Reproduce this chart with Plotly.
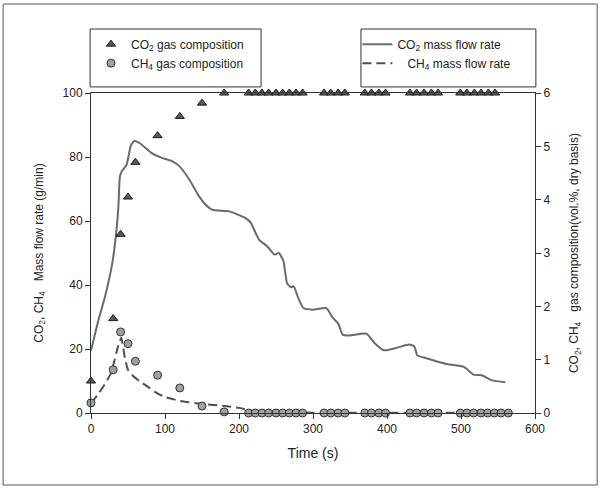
import plotly.graph_objects as go

# ---------------- data ----------------
# CO2 mass flow rate (g/min), left axis
co2_flow_t = [0, 10, 19, 28, 33, 37, 39, 41.5, 48, 50.5, 54, 58.5, 66, 82, 95, 110, 120, 133,
              146, 155, 164, 187, 209, 216, 227, 238, 248, 254, 260, 265, 270, 274, 280, 287,
              300, 318, 327, 334, 340, 349, 372, 383, 396, 412, 430, 437, 441, 452, 479, 504,
              517, 528, 542, 560]
co2_flow_v = [19.5, 29, 36.4, 45.8, 54, 64.5, 73.8, 75.5, 77.5, 80, 83.7, 85, 84.3, 81.2, 79.8,
              78.6, 77, 72.9, 67.7, 65.1, 63.5, 63, 60.9, 59.4, 54.2, 52.1, 49.5, 50, 47.5,
              40.5, 39.3, 39.6, 36, 32.8, 32.3, 32.8, 29.7, 28, 24.5, 24.2, 24.8, 21.9, 19.6,
              20.3, 21.4, 20.8, 18, 17.2, 15.4, 14.4, 12, 11.8, 10.2, 9.6]

# CH4 mass flow rate (g/min), left axis
ch4_flow_t = [0, 10, 20, 27, 34, 38, 41, 43, 46, 50, 58, 66, 78, 88, 100, 120, 150, 180, 200,
              215, 240, 300, 400, 500, 560]
ch4_flow_v = [3.1, 6, 9.5, 12.5, 18.5, 22, 23.5, 21, 17, 13.5, 11.3, 9.9, 8, 6.4, 5, 3.8, 2.8,
              2.2, 1.6, 0.8, 0.3, 0.1, 0.1, 0.1, 0.1]

# CO2 gas composition (vol.%, dry basis), right axis
co2_comp_t = [0, 30, 40, 50, 60, 90, 120, 150, 180,
              213, 222, 231, 240, 250, 259, 268, 277, 286,
              315, 324, 334, 343,
              370, 379, 389, 398,
              431, 440, 450, 460, 469,
              499, 508, 518, 527, 537, 546]
co2_comp = [0.60, 1.77, 3.35, 4.05, 4.70, 5.20, 5.56, 5.81, 6.00,
            6.00, 6.00, 6.00, 6.00, 6.00, 6.00, 6.00, 6.00, 6.00,
            6.00, 6.00, 6.00, 6.00,
            6.00, 6.00, 6.00, 6.00,
            6.00, 6.00, 6.00, 6.00, 6.00,
            6.00, 6.00, 6.00, 6.00, 6.00, 6.00]

# CH4 gas composition (vol.%, dry basis), right axis
ch4_comp_t = [0, 30, 40, 50, 60, 90, 120, 150, 180,
              213, 222, 231, 240, 250, 259, 268, 277, 286,
              315, 324, 334, 343,
              370, 379, 389, 398,
              431, 440, 450, 460, 469,
              499, 508, 517, 527, 536, 545, 554, 564]
ch4_comp = [0.19, 0.81, 1.52, 1.30, 0.97, 0.71, 0.47, 0.13, 0.02,
            0, 0, 0, 0, 0, 0, 0, 0, 0,
            0, 0, 0, 0,
            0, 0, 0, 0,
            0, 0, 0, 0, 0,
            0, 0, 0, 0, 0, 0, 0, 0]

x_ticks = [0, 100, 200, 300, 400, 500, 600]
y_left_ticks = [0, 20, 40, 60, 80, 100]
y_right_ticks = [0, 1, 2, 3, 4, 5, 6]

FONT = "Liberation Sans, Arial, sans-serif"
NB = "\u00a0"

fig = go.Figure()

fig.add_trace(go.Scatter(
    x=co2_flow_t, y=co2_flow_v, mode="lines", yaxis="y",
    line=dict(color="#6a6a6a", width=2, shape="spline", smoothing=0.5),
    name="CO<sub>2</sub> mass flow rate", legend="legend2"))
fig.add_trace(go.Scatter(
    x=ch4_flow_t, y=ch4_flow_v, mode="lines", yaxis="y",
    line=dict(color="#505050", width=2, dash="9px,5px", shape="spline", smoothing=0.5),
    name=NB * 3 + "CH<sub>4</sub> mass flow rate", legend="legend2"))

fig.add_trace(go.Scatter(
    x=co2_comp_t, y=co2_comp, mode="markers", yaxis="y2", cliponaxis=False,
    marker=dict(symbol="triangle-up", size=8, color="#595959",
                line=dict(color="#1a1a1a", width=1)),
    name="CO<sub>2</sub> gas composition", legend="legend"))
fig.add_trace(go.Scatter(
    x=ch4_comp_t, y=ch4_comp, mode="markers", yaxis="y2", cliponaxis=False,
    marker=dict(symbol="circle", size=8, color="#a0a0a0",
                line=dict(color="#333333", width=1)),
    name="CH<sub>4</sub> gas composition", legend="legend"))

axis_common = dict(showline=True, linecolor="#333333", linewidth=1, ticks="outside",
                   ticklen=5, tickcolor="#333333", showgrid=False, zeroline=False,
                   automargin=False,
                   tickfont=dict(family=FONT, size=12, color="#222222"))

fig.update_layout(
    width=603, height=489,
    margin=dict(l=91, r=68, t=93, b=76, autoexpand=False),
    paper_bgcolor="white", plot_bgcolor="white",
    font=dict(family=FONT, size=12, color="#222222"),
    hovermode=False,
    xaxis=dict(range=[0, 600], tickvals=x_ticks, mirror=True,
               title=dict(text="Time (s)", font=dict(family=FONT, size=14), standoff=12),
               **axis_common),
    yaxis=dict(range=[0, 100], tickvals=y_left_ticks,
               title=dict(text="CO<sub>2</sub>, CH<sub>4</sub>" + NB * 3 + "Mass flow rate (g/min)",
                          font=dict(family=FONT, size=12), standoff=16),
               **axis_common),
    yaxis2=dict(range=[0, 6], tickvals=y_right_ticks, overlaying="y", side="right", anchor="x",
                title=dict(text="CO<sub>2</sub>, CH<sub>4</sub>" + NB * 3 +
                           "gas composition(vol.%, dry basis)",
                           font=dict(family=FONT, size=12), standoff=20),
                **axis_common),
    legend=dict(x=0.0, y=1.123, xanchor="left", yanchor="middle", bgcolor="rgba(0,0,0,0)",
                borderwidth=0, font=dict(family=FONT, size=12, color="#222222")),
    legend2=dict(x=0.60, y=1.123, xanchor="left", yanchor="middle", bgcolor="rgba(0,0,0,0)",
                 borderwidth=0, font=dict(family=FONT, size=12, color="#222222")),
    showlegend=True,
    shapes=[
        dict(type="rect", xref="paper", yref="paper", x0=-0.002, x1=0.383, y0=1.019, y1=1.2,
             line=dict(color="#333333", width=1)),
        dict(type="rect", xref="paper", yref="paper", x0=0.608, x1=1.002, y0=1.019, y1=1.2,
             line=dict(color="#333333", width=1)),
        dict(type="rect", xref="paper", yref="paper", x0=-0.198, x1=1.140, y0=-0.225, y1=1.278,
             line=dict(color="#555555", width=1)),
    ],
)

fig.write_html("out.html", config={"displayModeBar": False},
               post_script="document.body.style.margin='0';document.body.style.overflow='hidden';")
